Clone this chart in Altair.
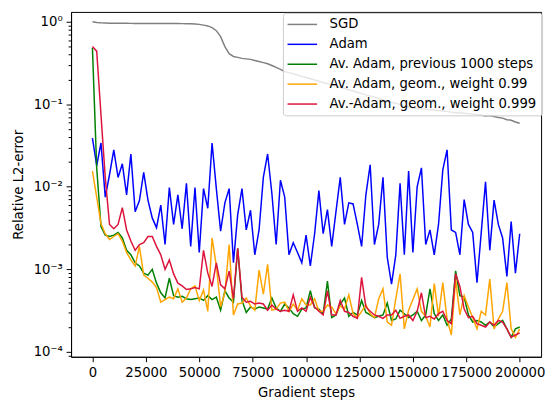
import altair as alt
import pandas as pd

steps = list(range(0, 200001, 2000))

series_names = [
    "SGD",
    "Adam",
    "Av. Adam, previous 1000 steps",
    "Av. Adam, geom., weight 0.99",
    "Av.-Adam, geom., weight 0.999",
]
series_colors = ["#808080", "#0000ff", "#008000", "#ffa500", "#dc143c"]

sgd = [
    1.0, 0.98, 0.97, 0.965, 0.962, 0.96, 0.96, 0.958, 0.957, 0.956,
    0.955, 0.955, 0.954, 0.953, 0.953, 0.952, 0.952, 0.951, 0.951, 0.95,
    0.95, 0.949, 0.948, 0.946, 0.94, 0.93, 0.91, 0.89, 0.85, 0.78,
    0.66, 0.5, 0.41, 0.38, 0.37, 0.36, 0.355, 0.35, 0.34, 0.33,
    0.32, 0.31, 0.295, 0.28, 0.265, 0.25, 0.242, 0.234, 0.226, 0.218,
    0.211, 0.204, 0.197, 0.19, 0.184, 0.178, 0.172, 0.166, 0.16, 0.155,
    0.15, 0.145, 0.14, 0.135, 0.13, 0.126, 0.122, 0.118, 0.114, 0.11,
    0.106, 0.103, 0.099, 0.096, 0.093, 0.09, 0.089, 0.088, 0.087, 0.086,
    0.085, 0.084, 0.083, 0.082, 0.08, 0.079, 0.079, 0.078, 0.077, 0.076,
    0.075, 0.074, 0.072, 0.073, 0.071, 0.069, 0.068, 0.065, 0.064, 0.061,
    0.059,
]

adam = [
    0.039, 0.018, 0.034, 0.0075, 0.014, 0.028, 0.013, 0.019, 0.008, 0.025,
    0.005, 0.0068, 0.015, 0.0069, 0.0042, 0.0032, 0.006, 0.002, 0.0098, 0.0035,
    0.008, 0.0031, 0.011, 0.0019, 0.0098, 0.0016, 0.0095, 0.0055, 0.034, 0.0095,
    0.0029, 0.0064, 0.0095, 0.0012, 0.0046, 0.0095, 0.003, 0.0052, 0.0015, 0.003,
    0.013, 0.025, 0.0083, 0.002, 0.012, 0.0075, 0.0015, 0.0021, 0.0016, 0.0012,
    0.0026, 0.0011, 0.0027, 0.009, 0.0027, 0.0053, 0.0019, 0.005, 0.013, 0.0035,
    0.0064, 0.0062, 0.0035, 0.0019, 0.008, 0.0185, 0.002, 0.0035, 0.013, 0.0014,
    0.00066, 0.0015, 0.011, 0.0015, 0.0155, 0.0016, 0.01, 0.017, 0.002, 0.003,
    0.0015, 0.0035, 0.016, 0.028, 0.003, 0.0028, 0.0015, 0.007, 0.0035, 0.0028,
    0.00069, 0.0028, 0.0115, 0.0017, 0.0069, 0.0035, 0.0024, 0.00082, 0.0038, 0.0009,
    0.0027,
]

avg_prev = [
    0.48, 0.017, 0.0033, 0.0026, 0.0025, 0.0026, 0.0028, 0.0024, 0.0017, 0.0015,
    0.0012, 0.0011, 0.0009, 0.00085, 0.001, 0.00068, 0.00052, 0.00045, 0.00078, 0.00048,
    0.00046, 0.00047, 0.00044, 0.00043, 0.00044, 0.00045, 0.00042, 0.00048, 0.00043, 0.00046,
    0.00032, 0.00055, 0.00045, 0.0004, 0.0018, 0.00042, 0.0003, 0.00035, 0.00033, 0.00035,
    0.00034, 0.00033, 0.00045, 0.00034, 0.00031, 0.00038, 0.00034, 0.00029, 0.00027, 0.00033,
    0.00034, 0.00055, 0.00034, 0.00033, 0.00029, 0.00072, 0.00026, 0.00028, 0.00038, 0.00045,
    0.00027, 0.0003, 0.00028, 0.00042, 0.0003, 0.00028, 0.00026, 0.00027, 0.00028, 0.00039,
    0.00024, 0.00025, 0.00032, 0.00029, 0.00026, 0.00028, 0.00031, 0.00024, 0.00028, 0.00058,
    0.00029, 0.00024, 0.00028, 0.00021, 0.00025, 0.00096, 0.00048, 0.00046, 0.00028, 0.00023,
    0.00024, 0.00023, 0.00021, 0.00023, 0.0002, 0.00022, 0.00024, 0.00019, 0.00015, 0.00019,
    0.0002,
]

geom_099 = [
    0.0155, 0.0075, 0.0036, 0.0027, 0.0023, 0.0025, 0.0027, 0.0022, 0.0016, 0.0013,
    0.0011, 0.0019, 0.00085, 0.00078, 0.0007, 0.0006, 0.0004, 0.00043, 0.00046, 0.00044,
    0.00058, 0.0004, 0.00045, 0.00058, 0.00063, 0.00042, 0.00056, 0.00031, 0.0024, 0.0011,
    0.00035, 0.00052, 0.002, 0.00028, 0.00038, 0.00039, 0.00045, 0.00036, 0.00032, 0.00098,
    0.0005, 0.00115, 0.00032, 0.00033, 0.00039, 0.0004, 0.00031, 0.00038, 0.00032, 0.00044,
    0.00037, 0.00037, 0.00044, 0.00031, 0.00031, 0.00037, 0.00035, 0.00029, 0.00036, 0.00033,
    0.00049, 0.00029, 0.00026, 0.00031, 0.00037, 0.00029, 0.00026, 0.00044, 0.00058, 0.00023,
    0.00021, 0.00044, 0.00088, 0.00019, 0.00032, 0.00043, 0.00058, 0.00031, 0.00027, 0.0002,
    0.00067, 0.00027, 0.00069, 0.00025, 0.00016, 0.00075, 0.00028, 0.00048, 0.00035, 0.00026,
    0.00019, 0.00031, 0.00028, 0.00076, 0.00019, 0.00025, 0.00031, 0.00069, 0.00019, 0.00015,
    0.00019,
]

geom_0999 = [
    0.5, 0.44, 0.075, 0.013, 0.0035, 0.0031, 0.0035, 0.0056, 0.003, 0.0022,
    0.0017, 0.002, 0.0021, 0.0025, 0.0025, 0.0019, 0.0015, 0.001, 0.0013, 0.00088,
    0.00068, 0.00063, 0.00057, 0.00058, 0.0006, 0.00058, 0.0017, 0.0009, 0.00062, 0.0012,
    0.00065, 0.00058, 0.00095, 0.00044, 0.0018, 0.00046, 0.0004, 0.00041, 0.00038, 0.00039,
    0.00038, 0.00032, 0.00037, 0.00033, 0.00031, 0.00032, 0.00031, 0.00049, 0.00031, 0.00034,
    0.00031, 0.00046, 0.00035, 0.00031, 0.00028, 0.00055, 0.00028, 0.00028, 0.00042, 0.00031,
    0.0003, 0.00027, 0.000255, 0.0008, 0.00035, 0.00031, 0.00028, 0.00027, 0.000255, 0.00028,
    0.00028, 0.00032, 0.000255, 0.00027, 0.00028, 0.00024, 0.00031, 0.00052, 0.00026, 0.00027,
    0.00025, 0.00029, 0.00031, 0.00024, 0.00022, 0.00088, 0.00062, 0.00033, 0.00026, 0.00027,
    0.00022, 0.00021, 0.0002, 0.00023, 0.00021, 0.00024, 0.00023, 0.00019, 0.00015, 0.00016,
    0.00017,
]

x_ticks = [0, 25000, 50000, 75000, 100000, 125000, 150000, 175000, 200000]
y_major = [1e-4, 1e-3, 1e-2, 1e-1, 1.0]
y_minor = [m * 10.0 ** e for e in range(-4, 0) for m in range(2, 10)] + [9e-5]

rows = []
for name, vals in zip(series_names, [sgd, adam, avg_prev, geom_099, geom_0999]):
    for s, v in zip(steps, vals):
        rows.append({"step": s, "error": v, "series": name})
df = pd.DataFrame(rows)

is_major = "abs(log(datum.value)/LN10 - round(log(datum.value)/LN10)) < 1e-6"
label_expr = (
    "abs(log(datum.value)/LN10 - round(log(datum.value)/LN10)) < 1e-6 ? "
    "'10' + ['\u207b\u2074','\u207b\u00b3','\u207b\u00b2','\u207b\u00b9','\u2070'][round(log(datum.value)/LN10)+4] : ''"
)

FS = 13.4

chart = (
    alt.Chart(df)
    .mark_line(strokeWidth=1.5, clip=True)
    .encode(
        x=alt.X(
            "step:Q",
            scale=alt.Scale(domain=[-10000, 210000], nice=False, zero=False),
            axis=alt.Axis(
                title="Gradient steps",
                values=x_ticks,
                format="d",
                tickSize=5,
                labelPadding=4,
                titlePadding=7,
            ),
        ),
        y=alt.Y(
            "error:Q",
            scale=alt.Scale(type="log", domain=[8.715e-5, 1.316], nice=False),
            axis=alt.Axis(
                title="Relative L2-error",
                values=y_major + y_minor,
                labelExpr=label_expr,
                tickSize={"condition": {"test": is_major, "value": 5}, "value": 3},
                labelPadding=4,
                titlePadding=8,
            ),
        ),
        color=alt.Color(
            "series:N",
            scale=alt.Scale(domain=series_names, range=series_colors),
            legend=alt.Legend(
                title=None,
                orient="none",
                legendX=215,
                legendY=1,
                symbolType="M-3,0H3",
                symbolSize=100,
                symbolStrokeWidth=1.5,
                symbolOffset=8,
                labelOffset=21,
                rowPadding=5.2,
                padding=5,
                labelLimit=400,
                fillColor="rgba(255,255,255,0.8)",
                strokeColor="#cccccc",
                cornerRadius=3,
            ),
        ),
    )
    .properties(
        width=477,
        height=350,
        autosize=alt.AutoSizeParams(type="none"),
        padding={"left": 64, "top": 1, "right": 5, "bottom": 49},
    )
    .configure_view(stroke="black", strokeWidth=1)
    .configure_axis(
        grid=False,
        domainColor="black",
        domainWidth=1,
        tickColor="black",
        tickWidth=1,
        labelColor="black",
        titleColor="black",
        labelFont="DejaVu Sans",
        titleFont="DejaVu Sans",
        labelFontSize=FS,
        titleFontSize=FS,
        titleFontWeight="normal",
    )
    .configure_legend(
        labelFont="DejaVu Sans",
        labelFontSize=FS,
        labelColor="black",
    )
)

chart.save("out.html", embed_options={"renderer": "svg", "actions": False})
